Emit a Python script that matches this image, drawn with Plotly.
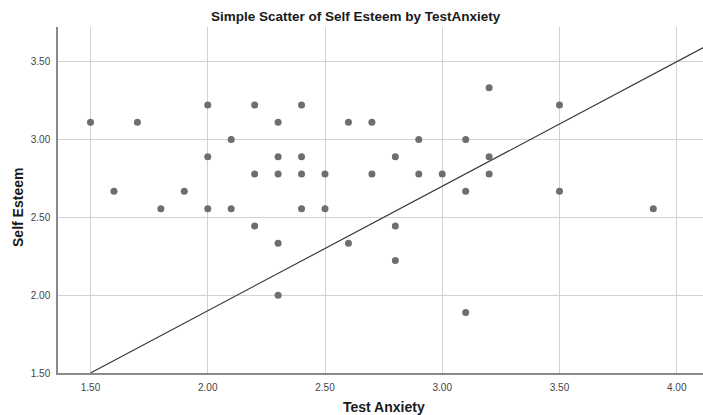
import plotly.graph_objects as go

# Data
test_anxiety = [1.5, 1.6, 1.7, 1.8, 1.9,
                2.0, 2.0, 2.0, 2.1, 2.1,
                2.2, 2.2, 2.2, 2.3, 2.3, 2.3, 2.3, 2.3,
                2.4, 2.4, 2.4, 2.4, 2.5, 2.5,
                2.6, 2.6, 2.7, 2.7,
                2.8, 2.8, 2.8, 2.9, 2.9, 3.0,
                3.1, 3.1, 3.1, 3.2, 3.2, 3.2,
                3.5, 3.5, 3.9]
self_esteem = [3.111, 2.667, 3.111, 2.556, 2.667,
               3.222, 2.889, 2.556, 3.000, 2.556,
               3.222, 2.778, 2.444, 3.111, 2.889, 2.778, 2.333, 2.000,
               3.222, 2.889, 2.778, 2.556, 2.778, 2.556,
               3.111, 2.333, 3.111, 2.778,
               2.889, 2.444, 2.222, 3.000, 2.778, 2.778,
               3.000, 2.667, 1.889, 3.333, 2.889, 2.778,
               3.222, 2.667, 2.556]

# Reference line (drawn across the plot)
ref_line_x = [1.5, 4.12]
ref_line_y = [1.5, 3.596]

x_ticks = [1.5, 2.0, 2.5, 3.0, 3.5, 4.0]
y_ticks = [1.5, 2.0, 2.5, 3.0, 3.5]

FONT = "Liberation Sans, Arial, sans-serif"

fig = go.Figure()
fig.add_trace(go.Scatter(
    x=ref_line_x, y=ref_line_y, mode="lines",
    line=dict(color="#3c3c3c", width=1.2),
    hoverinfo="skip", showlegend=False,
))
fig.add_trace(go.Scatter(
    x=test_anxiety, y=self_esteem, mode="markers",
    marker=dict(color="#6e6e6e", size=7, line=dict(width=0)),
    showlegend=False,
))

fig.update_layout(
    width=703, height=415,
    margin=dict(l=58, r=0, t=27, b=42, autoexpand=False),
    paper_bgcolor="white", plot_bgcolor="white",
    font=dict(family=FONT, color="#333333"),
    annotations=[
        dict(text="<b>Simple Scatter of Self Esteem by TestAnxiety</b>",
             xref="paper", yref="paper", x=0.462, y=1.03,
             xanchor="center", yanchor="middle", showarrow=False,
             font=dict(size=13.5, color="#1a1a1a")),
        dict(text="<b>Test Anxiety</b>",
             xref="paper", yref="paper", x=0.5055, y=-0.098,
             xanchor="center", yanchor="middle", showarrow=False,
             font=dict(size=14, color="#1a1a1a")),
        dict(text="<b>Self Esteem</b>", textangle=-90,
             xref="paper", yref="paper", x=-0.062, y=0.477,
             xanchor="center", yanchor="middle", showarrow=False,
             font=dict(size=14, color="#1a1a1a")),
    ],
)
fig.update_xaxes(
    range=[1.3614, 4.112], automargin=False,
    tickvals=x_ticks, ticktext=[f"{v:.2f}" for v in x_ticks],
    tickfont=dict(size=10, color="#444444"),
    showgrid=True, gridcolor="#d2d2d2", gridwidth=1,
    zeroline=False,
    showline=True, linecolor="#8a8a8a", linewidth=1.5, mirror=False,
    ticks="", ticklabelstandoff=4,
)
fig.update_yaxes(
    range=[1.5, 3.723], automargin=False,
    tickvals=y_ticks, ticktext=[f"{v:.2f}" for v in y_ticks],
    tickfont=dict(size=10, color="#444444"),
    showgrid=True, gridcolor="#d2d2d2", gridwidth=1,
    zeroline=False,
    showline=True, linecolor="#8a8a8a", linewidth=1.5, mirror=False,
    ticks="", ticklabelstandoff=4,
)

# Remove the default page margin so the 703x415 figure fills the window exactly.
fig.write_html(
    "out.html",
    config={"displayModeBar": False},
    post_script="document.body.style.margin='0';document.body.style.overflow='hidden';",
)
